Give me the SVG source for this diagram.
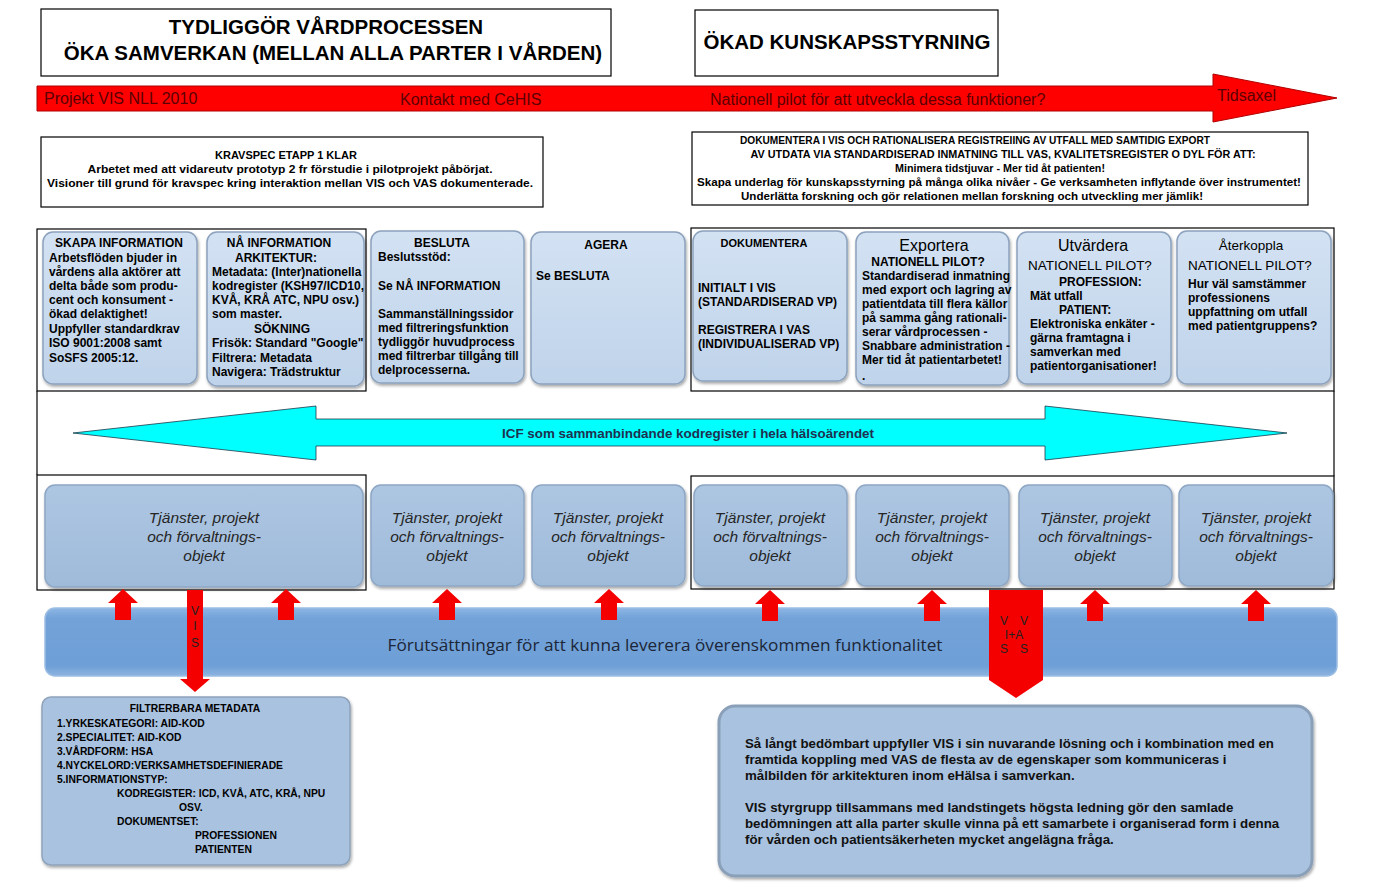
<svg xmlns="http://www.w3.org/2000/svg" width="1388" height="895" viewBox="0 0 1388 895">
<defs>
<style>
text{font-family:"Liberation Sans",Arial,sans-serif;fill:#000}
.t20{font-size:20.5px;font-weight:bold}
.red{font-size:16px;fill:#5a0000}
.b11{font-size:11px;font-weight:bold}
.b12{font-size:12px;font-weight:bold}
.b13{font-size:13.3px;font-weight:bold;fill:#111}
.b10{font-size:10.3px;font-weight:bold}
.h16{font-size:16px}
.h13{font-size:13.5px}
.tj{font-size:15.5px;font-style:italic;fill:#262626}
.frame{fill:none;stroke:#000;stroke-width:1.2}
.box1{fill:url(#g1);stroke:#8ca2bd;stroke-width:1.5;filter:url(#sh)}
.box2{fill:url(#g2);stroke:#8ea7c4;stroke-width:1.5;filter:url(#sh)}
.wbox{fill:#fff;stroke:#000;stroke-width:1.2}
.up{fill:#f40000}
.vt{font-size:12px;fill:#222}
</style>
<linearGradient id="g1" x1="0" y1="0" x2="0" y2="1"><stop offset="0" stop-color="#d3e2f3"/><stop offset="1" stop-color="#bfd3ea"/></linearGradient>
<linearGradient id="g2" x1="0" y1="0" x2="0" y2="1"><stop offset="0" stop-color="#adc6e2"/><stop offset="1" stop-color="#9fbbda"/></linearGradient>
<linearGradient id="g3" x1="0" y1="0" x2="0" y2="1"><stop offset="0" stop-color="#8db6e4"/><stop offset="0.15" stop-color="#72a2d8"/><stop offset="0.85" stop-color="#6e9fd6"/><stop offset="1" stop-color="#8db4e0"/></linearGradient>
<filter id="sh" x="-5%" y="-5%" width="110%" height="115%"><feDropShadow dx="1" dy="2" stdDeviation="1.5" flood-color="#000" flood-opacity="0.35"/></filter>
<g id="uparrow"><polygon class="up" points="-15,14 0,0 15,14 8,14 8,31 -8,31 -8,14"/></g>
</defs>
<rect width="1388" height="895" fill="#fff"/>

<g id="title1"><rect class="wbox" x="41" y="9" width="570" height="67"/>
<text class="t20" x="326" y="34" text-anchor="middle">TYDLIGGÖR VÅRDPROCESSEN</text>
<text class="t20" x="333" y="60" text-anchor="middle">ÖKA SAMVERKAN (MELLAN ALLA PARTER I VÅRDEN)</text></g>

<g id="title2"><rect class="wbox" x="695" y="10" width="303" height="66"/>
<text class="t20" x="847" y="49" text-anchor="middle">ÖKAD KUNSKAPSSTYRNING</text></g>

<g id="timeline"><polygon points="37,86 1213,86 1213,74 1337,98 1213,122 1213,111 37,111" fill="#ff0000" stroke="#b00000" stroke-width="1"/>
<text class="red" x="44" y="104">Projekt VIS NLL 2010</text>
<text class="red" x="400" y="105">Kontakt med CeHIS</text>
<text class="red" x="710" y="105">Nationell pilot för att utveckla dessa funktioner?</text>
<text class="red" x="1217" y="101">Tidsaxel</text></g>

<g id="kravspec"><rect class="wbox" x="41" y="137" width="502" height="70"/>
<text class="b11" x="286" y="159" text-anchor="middle">KRAVSPEC ETAPP 1 KLAR</text>
<text class="b11" x="290" y="173" text-anchor="middle" textLength="405" lengthAdjust="spacingAndGlyphs">Arbetet med att vidareutv prototyp 2 fr förstudie i pilotprojekt påbörjat.</text>
<text class="b11" x="290" y="187" text-anchor="middle" textLength="486" lengthAdjust="spacingAndGlyphs">Visioner till grund för kravspec kring interaktion mellan VIS och VAS dokumenterade.</text></g>

<g id="dokumentera-top"><rect class="wbox" x="692" y="132" width="616" height="73"/>
<text class="b11" x="975" y="144" text-anchor="middle" textLength="470" lengthAdjust="spacingAndGlyphs">DOKUMENTERA I VIS OCH RATIONALISERA REGISTREIING AV UTFALL MED SAMTIDIG EXPORT</text>
<text class="b11" x="1003" y="158" text-anchor="middle" textLength="505" lengthAdjust="spacingAndGlyphs">AV UTDATA VIA STANDARDISERAD INMATNING TILL VAS, KVALITETSREGISTER O DYL FÖR ATT:</text>
<text class="b11" x="1000" y="172" text-anchor="middle" textLength="210" lengthAdjust="spacingAndGlyphs">Minimera tidstjuvar - Mer tid åt patienten!</text>
<text class="b11" x="999" y="186" text-anchor="middle" textLength="604" lengthAdjust="spacingAndGlyphs">Skapa underlag för kunskapsstyrning på många olika nivåer - Ge verksamheten inflytande över instrumentet!</text>
<text class="b11" x="972" y="200" text-anchor="middle" textLength="462" lengthAdjust="spacingAndGlyphs">Underlätta forskning och gör relationen mellan forskning och utveckling mer jämlik!</text></g>

<g id="frames">
<rect class="frame" x="37" y="229" width="329" height="162"/>
<rect class="frame" x="691" y="228" width="643" height="163"/>
<rect class="frame" x="37" y="475" width="329" height="115"/>
<rect class="frame" x="691" y="476" width="643" height="113"/>
<line class="frame" x1="37" y1="391" x2="37" y2="475"/>
<line class="frame" x1="1334" y1="391" x2="1334" y2="476"/>
</g>

<g id="skapa"><rect class="box1" x="43" y="232" width="154" height="152" rx="10"/>
<text class="b12" x="119" y="247" text-anchor="middle">SKAPA INFORMATION</text>
<text class="b12" x="49" y="262">Arbetsflöden bjuder in</text>
<text class="b12" x="49" y="276">vårdens alla aktörer att</text>
<text class="b12" x="49" y="290">delta både som produ-</text>
<text class="b12" x="49" y="304">cent och konsument -</text>
<text class="b12" x="49" y="318">ökad delaktighet!</text>
<text class="b12" x="49" y="333">Uppfyller standardkrav</text>
<text class="b12" x="49" y="347">ISO 9001:2008 samt</text>
<text class="b12" x="49" y="362">SoSFS 2005:12.</text></g>

<g id="na"><rect class="box1" x="207" y="232" width="157" height="154" rx="10"/>
<text class="b12" x="279" y="247" text-anchor="middle">NÅ INFORMATION</text>
<text class="b12" x="276" y="262" text-anchor="middle">ARKITEKTUR:</text>
<text class="b12" x="212" y="276">Metadata: (Inter)nationella</text>
<text class="b12" x="212" y="290">kodregister (KSH97/ICD10,</text>
<text class="b12" x="212" y="304">KVÅ, KRÅ ATC, NPU osv.)</text>
<text class="b12" x="212" y="318">som master.</text>
<text class="b12" x="282" y="333" text-anchor="middle">SÖKNING</text>
<text class="b12" x="212" y="347">Frisök: Standard "Google"</text>
<text class="b12" x="212" y="362">Filtrera: Metadata</text>
<text class="b12" x="212" y="376">Navigera: Trädstruktur</text></g>

<g id="besluta"><rect class="box1" x="371" y="231" width="153" height="152" rx="10"/>
<text class="b12" x="442" y="247" text-anchor="middle">BESLUTA</text>
<text class="b12" x="378" y="261">Beslutsstöd:</text>
<text class="b12" x="378" y="290">Se NÅ INFORMATION</text>
<text class="b12" x="378" y="318">Sammanställningssidor</text>
<text class="b12" x="378" y="332">med filtreringsfunktion</text>
<text class="b12" x="378" y="346">tydliggör huvudprocess</text>
<text class="b12" x="378" y="360">med filtrerbar tillgång till</text>
<text class="b12" x="378" y="374">delprocesserna.</text></g>

<g id="agera"><rect class="box1" x="531" y="232" width="154" height="152" rx="10"/>
<text class="b12" x="606" y="249" text-anchor="middle">AGERA</text>
<text class="b12" x="536" y="280">Se BESLUTA</text></g>

<g id="dokumentera"><rect class="box1" x="693" y="231" width="154" height="150" rx="10"/>
<text class="b11" x="764" y="247" text-anchor="middle">DOKUMENTERA</text>
<text class="b12" x="698" y="292">INITIALT I VIS</text>
<text class="b12" x="698" y="306">(STANDARDISERAD VP)</text>
<text class="b12" x="698" y="334">REGISTRERA I VAS</text>
<text class="b12" x="698" y="348">(INDIVIDUALISERAD VP)</text></g>

<g id="exportera"><rect class="box1" x="856" y="232" width="153" height="153" rx="10"/>
<text class="h16" x="934" y="251" text-anchor="middle">Exportera</text>
<text class="b12" x="928" y="266" text-anchor="middle">NATIONELL PILOT?</text>
<text class="b12" x="862" y="280">Standardiserad inmatning</text>
<text class="b12" x="862" y="294">med export och lagring av</text>
<text class="b12" x="862" y="308">patientdata till flera källor</text>
<text class="b12" x="862" y="322">på samma gång rationali-</text>
<text class="b12" x="862" y="336">serar vårdprocessen -</text>
<text class="b12" x="862" y="350">Snabbare administration -</text>
<text class="b12" x="862" y="364">Mer tid åt patientarbetet!</text>
<text class="b12" x="862" y="380">.</text></g>

<g id="utvardera"><rect class="box1" x="1017" y="232" width="154" height="152" rx="10"/>
<text class="h16" x="1093" y="251" text-anchor="middle">Utvärdera</text>
<text class="h13" x="1090" y="270" text-anchor="middle">NATIONELL PILOT?</text>
<text class="b12" x="1059" y="286">PROFESSION:</text>
<text class="b12" x="1030" y="300">Mät utfall</text>
<text class="b12" x="1059" y="314">PATIENT:</text>
<text class="b12" x="1030" y="328">Elektroniska enkäter -</text>
<text class="b12" x="1030" y="342">gärna framtagna i</text>
<text class="b12" x="1030" y="356">samverkan med</text>
<text class="b12" x="1030" y="370">patientorganisationer!</text></g>

<g id="aterkoppla"><rect class="box1" x="1177" y="231" width="154" height="153" rx="10"/>
<text class="h13" x="1251" y="250" text-anchor="middle">Återkoppla</text>
<text class="h13" x="1250" y="270" text-anchor="middle">NATIONELL PILOT?</text>
<text class="b12" x="1188" y="288">Hur väl samstämmer</text>
<text class="b12" x="1188" y="302">professionens</text>
<text class="b12" x="1188" y="316">uppfattning om utfall</text>
<text class="b12" x="1188" y="330">med patientgruppens?</text></g>

<g id="icf"><polygon points="73,433 316,406 316,419 1045,419 1045,406 1287,433 1045,460 1045,446 316,446 316,460" fill="#00ffff" stroke="#1a3a4a" stroke-width="0.8"/>
<text x="688" y="438" text-anchor="middle" font-size="13" font-weight="bold" textLength="372" lengthAdjust="spacingAndGlyphs" style="fill:#1f3050">ICF som sammanbindande kodregister i hela hälsoärendet</text></g>

<g id="tjanster">
<rect class="box2" x="45" y="485" width="318" height="102" rx="10"/>
<rect class="box2" x="371" y="485" width="153" height="101" rx="10"/>
<rect class="box2" x="532" y="485" width="153" height="101" rx="10"/>
<rect class="box2" x="694" y="485" width="153" height="101" rx="10"/>
<rect class="box2" x="856" y="485" width="153" height="101" rx="10"/>
<rect class="box2" x="1019" y="485" width="153" height="101" rx="10"/>
<rect class="box2" x="1179" y="485" width="154" height="101" rx="10"/>
<g text-anchor="middle">
<text class="tj" x="204" y="523">Tjänster, projekt</text><text class="tj" x="204" y="542">och förvaltnings-</text><text class="tj" x="204" y="561">objekt</text>
<text class="tj" x="447" y="523">Tjänster, projekt</text><text class="tj" x="447" y="542">och förvaltnings-</text><text class="tj" x="447" y="561">objekt</text>
<text class="tj" x="608" y="523">Tjänster, projekt</text><text class="tj" x="608" y="542">och förvaltnings-</text><text class="tj" x="608" y="561">objekt</text>
<text class="tj" x="770" y="523">Tjänster, projekt</text><text class="tj" x="770" y="542">och förvaltnings-</text><text class="tj" x="770" y="561">objekt</text>
<text class="tj" x="932" y="523">Tjänster, projekt</text><text class="tj" x="932" y="542">och förvaltnings-</text><text class="tj" x="932" y="561">objekt</text>
<text class="tj" x="1095" y="523">Tjänster, projekt</text><text class="tj" x="1095" y="542">och förvaltnings-</text><text class="tj" x="1095" y="561">objekt</text>
<text class="tj" x="1256" y="523">Tjänster, projekt</text><text class="tj" x="1256" y="542">och förvaltnings-</text><text class="tj" x="1256" y="561">objekt</text>
</g></g>

<g id="bar"><rect x="45" y="608" width="1292" height="68" rx="10" fill="url(#g3)" stroke="#9cbde3" stroke-width="1.5"/>
<text x="665" y="651" text-anchor="middle" font-size="17" textLength="555" lengthAdjust="spacingAndGlyphs" style="font-family:'Open Sans','Noto Sans',sans-serif;fill:#1c2638">Förutsättningar för att kunna leverera överenskommen funktionalitet</text></g>

<g id="connectors">
<use href="#uparrow" x="123" y="589"/>
<use href="#uparrow" x="286" y="589"/>
<use href="#uparrow" x="447" y="589"/>
<use href="#uparrow" x="609" y="589"/>
<use href="#uparrow" x="770" y="590"/>
<use href="#uparrow" x="932" y="590"/>
<use href="#uparrow" x="1095" y="590"/>
<use href="#uparrow" x="1256" y="590"/>
<polygon points="187,590 203,590 203,679 210,679 195,692 180,679 187,679" fill="#f40000"/>
<text class="vt" x="195" y="615" text-anchor="middle">V</text>
<text class="vt" x="195" y="630" text-anchor="middle">I</text>
<text class="vt" x="195" y="647" text-anchor="middle">S</text>
<polygon points="989,590 1043,590 1043,680 1016,698 989,680" fill="#f40000"/>
<text class="vt" x="1004" y="625" text-anchor="middle">V</text>
<text class="vt" x="1024" y="625" text-anchor="middle">V</text>
<text class="vt" x="1014" y="639" text-anchor="middle">I+A</text>
<text class="vt" x="1004" y="653" text-anchor="middle">S</text>
<text class="vt" x="1024" y="653" text-anchor="middle">S</text>
</g>

<g id="filtrerbara"><rect x="42" y="697" width="308" height="168" rx="9" fill="#a9c2df" stroke="#8ea2ba" stroke-width="1.5" filter="url(#sh)"/>
<text class="b10" x="195" y="712" text-anchor="middle">FILTRERBARA METADATA</text>
<text class="b10" x="57" y="727">1.YRKESKATEGORI: AID-KOD</text>
<text class="b10" x="57" y="741">2.SPECIALITET: AID-KOD</text>
<text class="b10" x="57" y="755">3.VÅRDFORM: HSA</text>
<text class="b10" x="57" y="769">4.NYCKELORD:VERKSAMHETSDEFINIERADE</text>
<text class="b10" x="57" y="783">5.INFORMATIONSTYP:</text>
<text class="b10" x="117" y="797">KODREGISTER: ICD, KVÅ, ATC, KRÅ, NPU</text>
<text class="b10" x="179" y="811">OSV.</text>
<text class="b10" x="117" y="825">DOKUMENTSET:</text>
<text class="b10" x="195" y="839">PROFESSIONEN</text>
<text class="b10" x="195" y="853">PATIENTEN</text></g>

<g id="slutsats"><rect x="719" y="706" width="593" height="170" rx="16" fill="#a9c2df" stroke="#8a9fb8" stroke-width="3" filter="url(#sh)"/>
<text class="b13" x="745" y="748">Så långt bedömbart uppfyller VIS i sin nuvarande lösning och i kombination med en</text>
<text class="b13" x="745" y="764">framtida koppling med VAS de flesta av de egenskaper som kommuniceras i</text>
<text class="b13" x="745" y="780">målbilden för arkitekturen inom eHälsa i samverkan.</text>
<text class="b13" x="745" y="812">VIS styrgrupp tillsammans med landstingets högsta ledning gör den samlade</text>
<text class="b13" x="745" y="828">bedömningen att alla parter skulle vinna på ett samarbete i organiserad form i denna</text>
<text class="b13" x="745" y="844">för vården och patientsäkerheten mycket angelägna fråga.</text></g>
</svg>
